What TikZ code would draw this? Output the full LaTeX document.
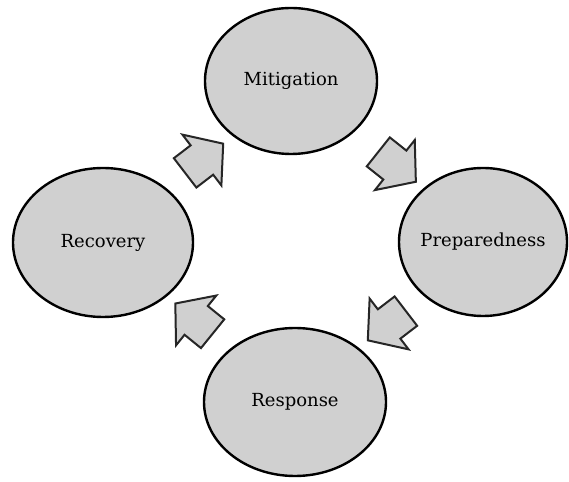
\documentclass[tikz,border=0pt]{standalone}
\usepackage{fontspec}
\setmainfont{DejaVu Serif}
\usetikzlibrary{shapes.geometric,shapes.arrows}
\definecolor{phaseGray}{RGB}{208,208,208}
\newcommand{\phaseFont}{\fontsize{18}{21}\selectfont}

\begin{document}
\begin{tikzpicture}[x=1pt, y=1pt,
   phase/.style={ellipse, draw=black, line width=2.4pt, fill=phaseGray,
      inner ysep=0pt, inner xsep=-25pt, text=black, font=\phaseFont},
   flow/.style={single arrow, draw=black!85, line width=2pt, fill=phaseGray,
      inner xsep=0pt, inner ysep=17.5pt, minimum height=48pt,
      single arrow head extend=13.5pt, single arrow tip angle=100}]
         \useasboundingbox (0,0) rectangle (569,481);

         % the four phases
         \node[phase, minimum width=172pt, minimum height=146pt] (mitigation) at (291,400) {Mitigation};
         \node[phase, minimum width=168pt, minimum height=148pt] (preparedness) at (483,239) {Preparedness};
         \node[phase, minimum width=182pt, minimum height=148pt] (response) at (295,79) {Response};
         \node[phase, minimum width=180pt, minimum height=149pt] (recovery) at (103,238.5) {Recovery};

         % block arrows between them
         \node[flow, rotate=37.5] (recToMit) at (198,318) {};
         \node[flow, rotate=-38.5] (mitToPrep) at (391,319) {};
         \node[flow, rotate=217.5] (prepToResp) at (393,160) {};
         \node[flow, rotate=141] (respToRec) at (200,157.5) {};
      \end{tikzpicture}
\end{document}
